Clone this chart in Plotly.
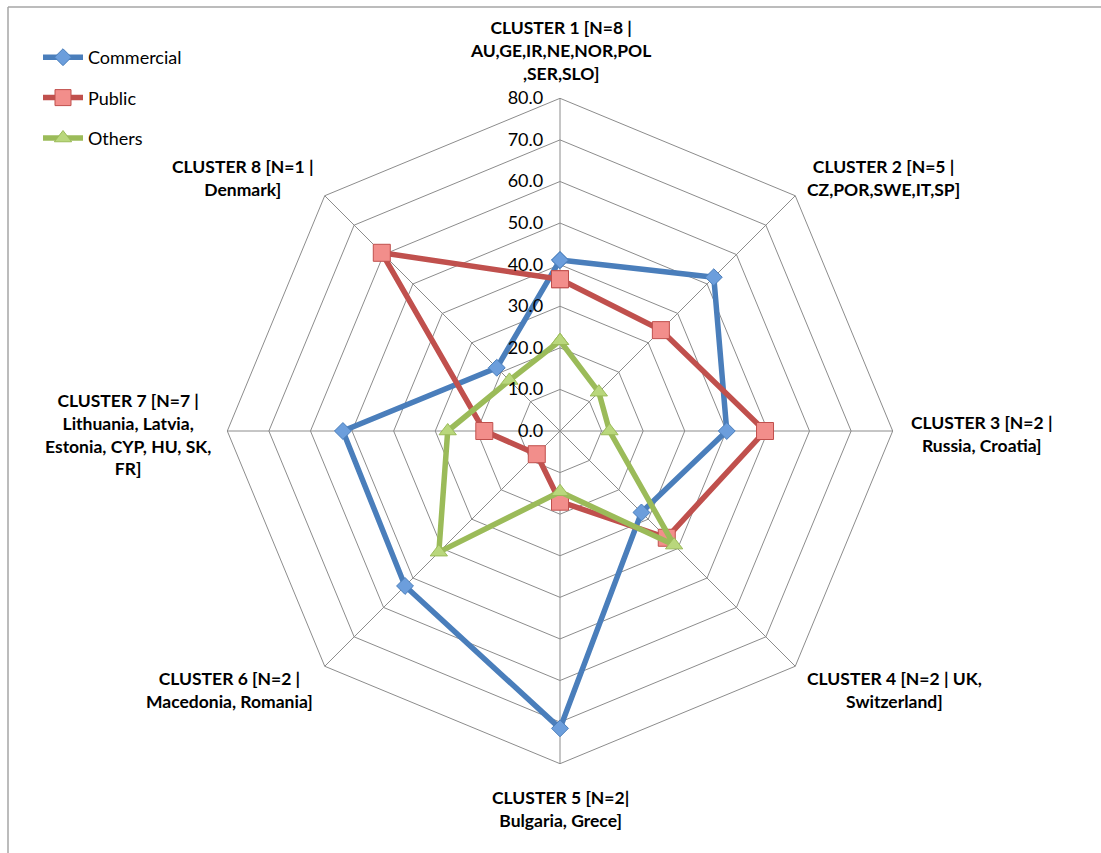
import math
import plotly.graph_objects as go

# Cluster categories (clockwise from the top)
clusters = [
    "CLUSTER 1 [N=8 |<br>AU,GE,IR,NE,NOR,POL<br>,SER,SLO]",
    "CLUSTER 2 [N=5 |<br>CZ,POR,SWE,IT,SP]",
    "CLUSTER 3 [N=2 |<br>Russia, Croatia]",
    "CLUSTER 4 [N=2 | UK,<br>Switzerland]",
    "CLUSTER 5 [N=2|<br>Bulgaria, Grece]",
    "CLUSTER 6 [N=2 |<br>Macedonia, Romania]",
    "CLUSTER 7 [N=7 |<br>Lithuania, Latvia,<br>Estonia, CYP, HU, SK,<br>FR]",
    "CLUSTER 8 [N=1 |<br>Denmark]",
]
cat_ids = ["C1", "C2", "C3", "C4", "C5", "C6", "C7", "C8"]

commercial = [41.1, 52.3, 40.1, 27.7, 71.5, 52.7, 52.2, 21.5]
public = [36.5, 34.3, 49.3, 36.3, 17.0, 7.9, 18.2, 60.6]
others = [21.7, 13.2, 11.9, 38.8, 14.6, 41.2, 27.0, 17.2]

r_max = 80
r_ticks = [0, 10, 20, 30, 40, 50, 60, 70, 80]

W, H = 1101, 853
cx, cy, R = 560, 431, 332.7  # polar centre / radius in pixels

fig = go.Figure()

series = [
    ("Commercial", commercial, "#4A7EBB", "#6C9EDC", "diamond", 13),
    ("Public", public, "#C0504D", "#F28E8B", "square", 17),
    ("Others", others, "#9BBB59", "#B9D77C", "triangle-up", 15),
]
for i, (name, vals, line_c, fill_c, sym, sz) in enumerate(series):
    fig.add_trace(go.Scatterpolar(
        r=vals + [vals[0]],
        theta=cat_ids + [cat_ids[0]],
        mode="lines+markers",
        name=name,
        legendgroup=f"g{i}",
        line=dict(color=line_c, width=5.5),
        marker=dict(symbol=sym, size=sz, color=fill_c,
                    line=dict(color=line_c, width=1)),
    ))

grid_c = "#8C8C8C"
fig.update_layout(
    width=W, height=H,
    margin=dict(l=0, r=0, t=0, b=0),
    paper_bgcolor="white",
    font=dict(family="Lato, sans-serif", color="#000000"),
    showlegend=True,
    legend=dict(
        x=38 / W, y=1 - 39 / H, xanchor="left", yanchor="top",
        font=dict(size=18, family="Lato, sans-serif"),
        tracegroupgap=14, bgcolor="rgba(0,0,0,0)",
        itemwidth=40,
    ),
    polar=dict(
        domain=dict(x=[(cx - R) / W, (cx + R) / W],
                    y=[(H - cy - R) / H, (H - cy + R) / H]),
        bgcolor="white",
        gridshape="linear",
        angularaxis=dict(
            type="category",
            categoryarray=cat_ids,
            direction="clockwise",
            rotation=90,
            showticklabels=False,
            ticks="",
            showgrid=True, gridcolor=grid_c, gridwidth=1,
            showline=True, linecolor=grid_c, linewidth=1,
        ),
        radialaxis=dict(
            range=[0, r_max],
            tickvals=r_ticks,
            ticktext=[f"{v:.1f}" for v in r_ticks],
            angle=90,
            side="counterclockwise",
            tickangle=90,
            showline=False,
            showgrid=True, gridcolor=grid_c, gridwidth=1,
            ticks="outside", ticklen=10, tickcolor="rgba(0,0,0,0)",
            tickfont=dict(size=18, family="Lato, sans-serif"),
        ),
    ),
)

# Category labels placed just outside each vertex of the outer ring
label_cfg = [
    dict(gap=12, xa="center", ya="bottom", dx=0, dy=0),
    dict(gap=14, xa="left", ya="middle", dx=0, dy=-8),
    dict(gap=16, xa="left", ya="middle", dx=0, dy=3),
    dict(gap=14, xa="left", ya="middle", dx=0, dy=14),
    dict(gap=21, xa="center", ya="top", dx=0, dy=0),
    dict(gap=14, xa="right", ya="middle", dx=0, dy=14),
    dict(gap=14, xa="right", ya="middle", dx=0, dy=3),
    dict(gap=14, xa="right", ya="middle", dx=0, dy=-8),
]
n = len(clusters)
for k, (txt, cfg) in enumerate(zip(clusters, label_cfg)):
    ang = 2 * math.pi * k / n
    px = cx + (R + cfg["gap"]) * math.sin(ang)
    py = cy - (R + cfg["gap"]) * math.cos(ang)
    fig.add_annotation(
        x=px / W, y=1 - py / H, xref="paper", yref="paper",
        text=f"<b>{txt}</b>", showarrow=False,
        xanchor=cfg["xa"], yanchor=cfg["ya"], align="center",
        xshift=cfg["dx"], yshift=-cfg["dy"],
        font=dict(size=17.5, family="Lato, sans-serif", color="#000000"),
    )

# Chart frame (top and left edges)
fig.add_shape(type="line", xref="paper", yref="paper",
              x0=8 / W, x1=1, y0=1 - 7 / H, y1=1 - 7 / H,
              line=dict(color="#A6A6A6", width=1.5))
fig.add_shape(type="line", xref="paper", yref="paper",
              x0=8 / W, x1=8 / W, y0=0, y1=1 - 7 / H,
              line=dict(color="#A6A6A6", width=1.5))

fig.write_html("out.html")
